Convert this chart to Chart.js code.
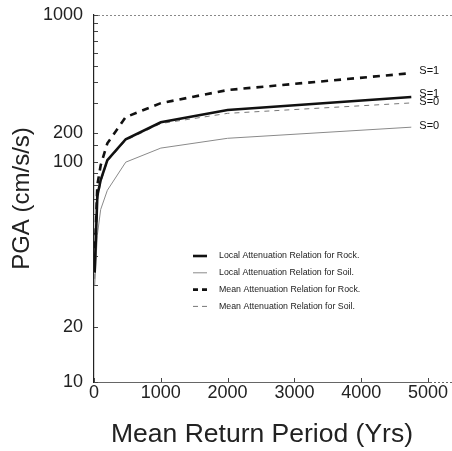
<!DOCTYPE html>
<html>
<head>
<meta charset="utf-8">
<script src="https://cdn.jsdelivr.net/npm/chart.js@4.4.3/dist/chart.umd.min.js"></script>
<style>
  html, body { margin: 0; padding: 0; background: #fff; }
  #wrap { width: 452px; height: 451px; }
</style>
</head>
<body>
<div id="wrap"><canvas id="c" width="452" height="451"></canvas></div>
<script>
// Data
const returnPeriods = [10, 50, 100, 200, 475, 1000, 2000, 4750];
const localRock = [34, 72, 84, 105, 173, 232, 274, 327];
const localSoil = [30, 49, 63, 76, 100, 140, 177, 217];
const meanRock = [38, 80, 97, 157, 249, 301, 360, 453];
const meanSoil = [32, 68, 82, 102, 168, 228, 262, 302];
const seriesNames = [
  'Local Attenuation Relation for Rock.',
  'Local Attenuation Relation for Soil.',
  'Mean Attenuation Relation for Rock.',
  'Mean Attenuation Relation for Soil.'
];
const endLabels = ['S=1', 'S=0', 'S=1', 'S=0'];
const yTickLabels = [10, 20, 100, 200, 1000];
const xTickLabels = [0, 1000, 2000, 3000, 4000, 5000];

// The original y axis is not evenly logarithmic: labelled values sit at
// these fractions of the axis height, log-interpolated in between.
const warpValues = [10, 20, 100, 200, 1000];
const warpFracs = [0, 0.150, 0.599, 0.678, 1];

function warp(v) {
  const lv = Math.log10(v);
  const la = warpValues.map(Math.log10);
  if (lv <= la[0]) return warpFracs[0];
  for (let i = 1; i < la.length; i++) {
    if (lv <= la[i]) {
      const t = (lv - la[i - 1]) / (la[i] - la[i - 1]);
      return warpFracs[i - 1] + t * (warpFracs[i] - warpFracs[i - 1]);
    }
  }
  return 1;
}
function unwarp(d) {
  const la = warpValues.map(Math.log10);
  for (let i = 1; i < la.length; i++) {
    if (d <= warpFracs[i]) {
      const t = (d - warpFracs[i - 1]) / (warpFracs[i] - warpFracs[i - 1]);
      return Math.pow(10, la[i - 1] + t * (la[i] - la[i - 1]));
    }
  }
  return warpValues[warpValues.length - 1];
}

class WarpedLogScale extends Chart.LogarithmicScale {
  static id = 'warpedLog';
  static defaults = {};
  getPixelForValue(value) {
    if (value === undefined || value === 0) value = this.min;
    if (value === null || isNaN(value)) return NaN;
    return this.getPixelForDecimal(warp(value));
  }
  getValueForPixel(pixel) {
    return unwarp(this.getDecimalForPixel(pixel));
  }
}
Chart.register(WarpedLogScale);

const toPoints = arr => arr.map((y, i) => ({ x: returnPeriods[i], y }));

const styles = [
  { borderColor: '#111', borderWidth: 2.6, borderDash: [] },
  { borderColor: '#8a8a8a', borderWidth: 1, borderDash: [] },
  { borderColor: '#111', borderWidth: 2.6, borderDash: [7, 6] },
  { borderColor: '#777', borderWidth: 1, borderDash: [5, 5] }
];
const seriesData = [localRock, localSoil, meanRock, meanSoil];

// inward tick marks, dotted frame running to the edge, legend inside the plot, S= labels
const annotatePlugin = {
  id: 'annotate',
  beforeDatasetsDraw(chart) {
    const { ctx, chartArea, scales } = chart;
    ctx.save();
    ctx.lineWidth = 1;
    ctx.setLineDash([2, 2]);
    ctx.strokeStyle = '#888';
    ctx.beginPath();
    ctx.moveTo(chartArea.left, chartArea.top + 0.5);
    ctx.lineTo(chart.width, chartArea.top + 0.5);
    ctx.stroke();
    ctx.strokeStyle = '#666';
    ctx.beginPath();
    ctx.moveTo(chartArea.right, Math.round(chartArea.bottom) + 0.5);
    ctx.lineTo(chart.width, Math.round(chartArea.bottom) + 0.5);
    ctx.stroke();
    ctx.setLineDash([]);
    ctx.strokeStyle = '#444';
    ctx.beginPath();
    scales.y.ticks.forEach(t => {
      const py = Math.round(scales.y.getPixelForValue(t.value)) + 0.5;
      ctx.moveTo(chartArea.left, py);
      ctx.lineTo(chartArea.left + 4, py);
    });
    scales.x.ticks.forEach(t => {
      const px = Math.round(scales.x.getPixelForValue(t.value)) + 0.5;
      ctx.moveTo(px, chartArea.bottom);
      ctx.lineTo(px, chartArea.bottom - 4);
    });
    ctx.stroke();
    ctx.restore();
  },
  afterDatasetsDraw(chart) {
    const { ctx, chartArea } = chart;
    ctx.save();
    // legend
    const lx = chartArea.left + 99;
    const ly0 = chartArea.top + 241;
    ctx.font = '8.8px "Liberation Sans", Arial, sans-serif';
    ctx.textBaseline = 'middle';
    ctx.textAlign = 'left';
    chart.data.datasets.forEach((ds, i) => {
      const y = ly0 + i * 16.8;
      ctx.beginPath();
      ctx.strokeStyle = ds.borderColor;
      ctx.lineWidth = ds.borderWidth;
      ctx.setLineDash(ds.borderDash.length ? [5, 4] : []);
      ctx.moveTo(lx, y);
      ctx.lineTo(lx + 14, y);
      ctx.stroke();
      ctx.setLineDash([]);
      ctx.fillStyle = '#222';
      ctx.fillText(ds.label, lx + 26, y);
    });
    // end labels
    const offs = [-3, -1, -2, -1];
    ctx.font = '11px "Liberation Sans", Arial, sans-serif';
    ctx.fillStyle = '#111';
    chart.data.datasets.forEach((ds, i) => {
      const meta = chart.getDatasetMeta(i);
      const pt = meta.data[meta.data.length - 1];
      ctx.fillText(endLabels[i], pt.x + 8, pt.y + offs[i]);
    });
    ctx.restore();
  }
};

new Chart(document.getElementById('c'), {
  type: 'line',
  data: {
    datasets: seriesData.map((arr, i) => ({
      label: seriesNames[i],
      data: toPoints(arr),
      borderColor: styles[i].borderColor,
      borderWidth: styles[i].borderWidth,
      borderDash: styles[i].borderDash,
      pointRadius: 0,
      tension: 0,
      fill: false
    }))
  },
  options: {
    responsive: false,
    animation: false,
    layout: { padding: { top: 15, left: 0, right: 22, bottom: 0 } },
    plugins: {
      legend: { display: false },
      tooltip: { enabled: false }
    },
    scales: {
      x: {
        type: 'linear',
        position: 'bottom',
        min: 0,
        max: 5030,
        afterFit: s => { s.height = 69; s.paddingLeft = 0; s.paddingRight = 0; },
        border: { color: '#666', width: 1, dash: [2, 2] },
        grid: { drawOnChartArea: false, drawTicks: false },
        afterBuildTicks: s => { s.ticks = xTickLabels.map(v => ({ value: v })); },
        ticks: {
          includeBounds: false,
          autoSkip: false,
          maxRotation: 0,
          padding: 0,
          color: '#222',
          font: { family: '"Liberation Sans", Arial, sans-serif', size: 18 },
          callback: v => String(v)
        },
        title: {
          display: true,
          text: 'Mean Return Period (Yrs)',
          color: '#222',
          font: { family: '"Liberation Sans", Arial, sans-serif', size: 26.5, lineHeight: 1.2 },
          padding: { top: 0, bottom: 0 }
        }
      },
      y: {
        type: 'warpedLog',
        position: 'left',
        min: 10,
        max: 1000,
        afterFit: s => { s.width = 94; s.paddingTop = 0; s.paddingBottom = 0; },
        border: { color: '#222', width: 1.2 },
        grid: { drawOnChartArea: false, drawTicks: false },
        ticks: {
          autoSkip: false,
          padding: 11,
          color: '#222',
          font: { family: '"Liberation Sans", Arial, sans-serif', size: 18 },
          callback: v => (yTickLabels.includes(Math.round(v)) ? String(Math.round(v)) : '')
        },
        title: {
          display: true,
          text: 'PGA (cm/s/s)',
          color: '#222',
          font: { family: '"Liberation Sans", Arial, sans-serif', size: 24, lineHeight: 1.2 },
          padding: { top: 8, bottom: 0 }
        }
      }
    }
  },
  plugins: [annotatePlugin]
});
</script>
</body>
</html>
